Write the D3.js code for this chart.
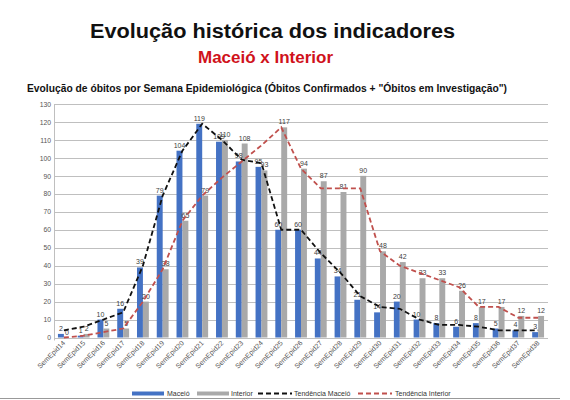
<!DOCTYPE html>
<html><head><meta charset="utf-8">
<script src="https://cdn.jsdelivr.net/npm/d3@7"></script>
<style>
body{margin:0;background:#fff;}
svg{display:block;font-family:"Liberation Sans",Arial,sans-serif;}
</style></head>
<body><svg id="c" width="570" height="400"></svg>
<script>
const weeks = ["SemEpid14","SemEpid15","SemEpid16","SemEpid17","SemEpid18","SemEpid19","SemEpid20","SemEpid21","SemEpid22","SemEpid23","SemEpid24","SemEpid25","SemEpid26","SemEpid27","SemEpid28","SemEpid29","SemEpid30","SemEpid31","SemEpid32","SemEpid33","SemEpid34","SemEpid35","SemEpid36","SemEpid37","SemEpid38"];
const maceio   = [2,1,10,16,39,79,104,119,109,98,95,60,60,44,34,21,14,20,10,8,6,8,5,4,3];
const interior = [0,2,5,5,20,38,65,79,110,108,93,117,94,87,81,90,48,42,33,33,26,17,17,12,12];
const trendMaceio   = [4,6,10,14,40,79,104,119,110,99,97,60,60,47,36,23,17,16,10,7,7,6,4,4,4];
const trendInterior = [0,1,3,5,20,38,65,79,89,98,107,117,94,83,83,83,48,40,36,32,28,17,17,11,11];
const yTicks = d3.range(0,131,10);
const seriesNames = ["Maceió","Interior","Tendência Maceió","Tendência Interior"];

const svg = d3.select("#c");
const C = {blue:"#4472c4", gray:"#a9a9a9", red:"#c0504d", black:"#111"};

// titles
svg.append("text").attr("x",272.5).attr("y",37.5).attr("text-anchor","middle")
  .attr("font-size",20).attr("font-weight","bold").attr("fill","#111")
  .attr("textLength",365).attr("lengthAdjust","spacingAndGlyphs")
  .text("Evolução histórica dos indicadores");
svg.append("text").attr("x",265.5).attr("y",63).attr("text-anchor","middle")
  .attr("font-size",17).attr("font-weight","bold").attr("fill","#d0121b")
  .attr("textLength",135).attr("lengthAdjust","spacingAndGlyphs")
  .text("Maceió x Interior");
svg.append("text").attr("x",267).attr("y",92).attr("text-anchor","middle")
  .attr("font-size",10).attr("font-weight","bold").attr("fill","#111")
  .attr("textLength",480).attr("lengthAdjust","spacingAndGlyphs")
  .text("Evolução de óbitos por Semana Epidemiológica (Óbitos Confirmados + \"Óbitos em Investigação\")");

const x0 = d3.scaleBand().domain(weeks).range([54,548]).paddingInner(0.4).paddingOuter(0.2);
const x1 = d3.scaleBand().domain(["m","i"]).range([0,x0.bandwidth()]);
const y = d3.scaleLinear().domain([0,130]).range([337.5,104]);

// grid
svg.append("g").selectAll("line").data(yTicks).join("line")
  .attr("x1",54).attr("x2",548).attr("y1",d=>Math.round(y(d))+0.5).attr("y2",d=>Math.round(y(d))+0.5)
  .attr("stroke","#bfbfbf").attr("stroke-width",1);
svg.append("line").attr("x1",54.5).attr("x2",54.5).attr("y1",y(130)).attr("y2",y(0)+3).attr("stroke","#bfbfbf");

// y axis
const ya = svg.append("g").attr("transform","translate(54,0)")
  .call(d3.axisLeft(y).tickValues(yTicks).tickSize(0).tickPadding(3));
ya.select(".domain").remove();
ya.selectAll("text").attr("font-size",6.8).attr("fill","#555").attr("font-family","Liberation Sans, Arial, sans-serif");

// x axis
const xa = svg.append("g").attr("transform",`translate(0,${y(0)})`)
  .call(d3.axisBottom(x0).tickSize(0).tickPadding(0));
xa.select(".domain").remove();
xa.selectAll("text").attr("font-size",7).attr("fill","#555").attr("font-family","Liberation Sans, Arial, sans-serif")
  .attr("text-anchor","end").attr("dy",0)
  .attr("transform","translate(2,6) rotate(-45)");

// bars
const g = svg.append("g");
g.selectAll("rect.m").data(maceio).join("rect").attr("class","m")
  .attr("x",(d,i)=>x0(weeks[i])+x1("m")).attr("width",x1.bandwidth())
  .attr("y",d=>y(d)).attr("height",d=>y(0)-y(d)).attr("fill",C.blue);
g.selectAll("rect.i").data(interior).join("rect").attr("class","i")
  .attr("x",(d,i)=>x0(weeks[i])+x1("i")).attr("width",x1.bandwidth())
  .attr("y",d=>y(d)).attr("height",d=>y(0)-y(d)).attr("fill",C.gray);

// labels
function labels(data,key){
  g.selectAll("text."+key).data(data).join("text").attr("class",key)
    .attr("x",(d,i)=>x0(weeks[i])+x1(key)+x1.bandwidth()/2).attr("y",d=>y(d)-3)
    .attr("text-anchor","middle").attr("font-size",7).attr("fill","#404040").text(d=>d);
}
labels(maceio,"m"); labels(interior,"i");

// trend lines
const cx = i=>x0(weeks[i])+x0.bandwidth()/2;
const line = d3.line().x((d,i)=>cx(i)).y(d=>y(d));
svg.append("path").datum(trendMaceio).attr("d",line).attr("fill","none")
  .attr("stroke",C.black).attr("stroke-width",1.8).attr("stroke-dasharray","5,3");
svg.append("path").datum(trendInterior).attr("d",line).attr("fill","none")
  .attr("stroke",C.red).attr("stroke-width",1.8).attr("stroke-dasharray","5,3");

// legend
const lg = svg.append("g");
const items = [
  {n:seriesNames[0],x:132,tx:167,type:"bar",c:C.blue},
  {n:seriesNames[1],x:197,tx:231,type:"bar",c:C.gray},
  {n:seriesNames[2],x:258,tx:294,type:"dash",c:C.black},
  {n:seriesNames[3],x:358,tx:395,type:"dash",c:C.red}
];
items.forEach(it=>{
  if(it.type==="bar") lg.append("rect").attr("x",it.x).attr("y",391.5).attr("width",32).attr("height",4).attr("fill",it.c);
  else lg.append("line").attr("x1",it.x).attr("x2",it.x+34).attr("y1",393.5).attr("y2",393.5)
      .attr("stroke",it.c).attr("stroke-width",1.8).attr("stroke-dasharray","5,3");
  lg.append("text").attr("x",it.tx).attr("y",396).attr("font-size",7).attr("fill","#333").text(it.n);
});
svg.append("line").attr("x1",0).attr("x2",560).attr("y1",398.5).attr("y2",398.5).attr("stroke","#999");
</script></body></html>
